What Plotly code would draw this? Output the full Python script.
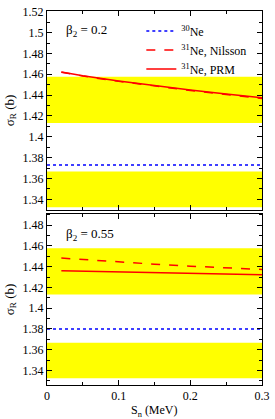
import plotly.graph_objects as go
from plotly.subplots import make_subplots

sn = [0.02, 0.05, 0.1, 0.15, 0.2, 0.25, 0.3]
top_prm = [1.4622, 1.4585, 1.4535, 1.4490, 1.4450, 1.4412, 1.4375]
top_nil = [1.4620, 1.4583, 1.4532, 1.4486, 1.4445, 1.4406, 1.4368]
bot_prm = [1.4362, 1.4358, 1.4352, 1.4345, 1.4337, 1.4330, 1.4322]
bot_nil = [1.4483, 1.4468, 1.4446, 1.4424, 1.4405, 1.4388, 1.4373]
ne30_top = 1.373
ne30_bot = 1.380
xline = [0.0, 0.3]
band_lo = [1.4133, 1.3325]
band_hi = [1.4577, 1.3667]
beta_labels = ["β<sub>2</sub> = 0.2", "β<sub>2</sub> = 0.55"]

top_ticks = [round(1.34 + 0.02 * i, 2) for i in range(10)]
bot_ticks = [round(1.34 + 0.02 * i, 2) for i in range(8)]

FONT = "Liberation Serif, Times New Roman, serif"
fig = make_subplots(rows=2, cols=1, shared_xaxes=True, vertical_spacing=0.0)

for r, (prm, nil, ne30) in enumerate([(top_prm, top_nil, ne30_top), (bot_prm, bot_nil, ne30_bot)], start=1):
    for lo, hi in zip(band_lo, band_hi):
        fig.add_shape(type="rect", xref="x domain" if r == 1 else "x2 domain",
                      yref="y" if r == 1 else "y2", x0=0, x1=1, y0=lo, y1=hi,
                      fillcolor="#ffff00", line_width=0, layer="below")
    show = r == 1
    fig.add_trace(go.Scatter(x=xline, y=[ne30, ne30], mode="lines",
                             line=dict(color="#0000ff", dash="dot", width=1.5),
                             name="<sup>30</sup>Ne", showlegend=show), row=r, col=1)
    fig.add_trace(go.Scatter(x=sn, y=nil, mode="lines",
                             line=dict(color="#ff0000", dash="dash", width=1.5),
                             name="<sup>31</sup>Ne, Nilsson", showlegend=show), row=r, col=1)
    fig.add_trace(go.Scatter(x=sn, y=prm, mode="lines",
                             line=dict(color="#ff0000", width=1.5),
                             name="<sup>31</sup>Ne, PRM", showlegend=show), row=r, col=1)

axis_common = dict(showline=True, linecolor="black", linewidth=1, mirror="allticks",
                   ticks="inside", ticklen=5, tickcolor="black", showgrid=False,
                   zeroline=False, ticklabeloverflow="allow",
                   tickfont=dict(family=FONT, size=12, color="black"))
fig.update_xaxes(range=[0, 0.3], tickvals=[0, 0.1, 0.2, 0.3], ticktext=["0", "0.1", "0.2", "0.3"],
                 minor=dict(ticks="inside", dtick=0.05, ticklen=3, tickcolor="black"),
                 **axis_common)
fig.update_xaxes(showticklabels=False, row=1, col=1)

fig.update_yaxes(range=[1.33, 1.5207], tickvals=top_ticks, ticktext=[f"{v:g}" for v in top_ticks],
                 minor=dict(ticks="inside", dtick=0.01, ticklen=3, tickcolor="black"),
                 title=dict(text="σ<sub>R</sub> (b)", font=dict(family=FONT, size=13, color="black"), standoff=5),
                 row=1, col=1, **axis_common)
fig.update_yaxes(range=[1.326, 1.491], tickvals=bot_ticks, ticktext=[f"{v:g}" for v in bot_ticks],
                 minor=dict(ticks="inside", dtick=0.01, ticklen=3, tickcolor="black"),
                 title=dict(text="σ<sub>R</sub> (b)", font=dict(family=FONT, size=13, color="black"), standoff=5),
                 row=2, col=1, **axis_common)

fig.update_layout(
    width=275, height=419,
    margin=dict(l=47, r=10, t=5, b=34),
    paper_bgcolor="white", plot_bgcolor="white",
    font=dict(family=FONT, size=12, color="black"),
    showlegend=True,
    legend=dict(x=0.955, y=0.985, xanchor="right", yanchor="top", bgcolor="rgba(0,0,0,0)",
                font=dict(family=FONT, size=12), tracegroupgap=0, itemwidth=30),
    yaxis=dict(domain=[0.4684, 1.0]),
    yaxis2=dict(domain=[0.0, 0.4579]),
)
fig.add_annotation(text="S<sub>n</sub> (MeV)", xref="paper", yref="paper", x=0.5, y=0,
                   xanchor="center", yanchor="top", yshift=-16, showarrow=False,
                   font=dict(family=FONT, size=12, color="black"))
fig.add_annotation(text=beta_labels[0], xref="x domain", yref="y domain", x=0.08, y=0.9,
                   xanchor="left", yanchor="middle", showarrow=False,
                   font=dict(family=FONT, size=13, color="black"))
fig.add_annotation(text=beta_labels[1], xref="x2 domain", yref="y2 domain", x=0.08, y=0.88,
                   xanchor="left", yanchor="middle", showarrow=False,
                   font=dict(family=FONT, size=13, color="black"))
fig.write_html("out.html", config={"displayModeBar": False},
               post_script="document.body.style.margin='0';document.body.style.padding='0';")
